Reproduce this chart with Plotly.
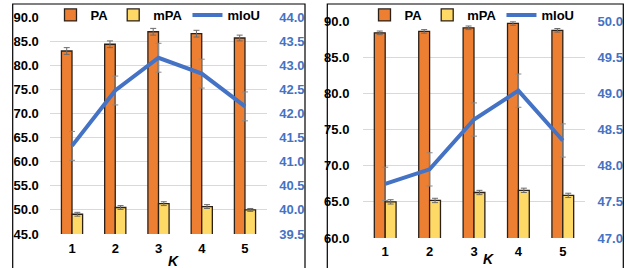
import plotly.graph_objects as go

# ---- data ----
K = ["1", "2", "3", "4", "5"]

left_pa = [83.0, 84.4, 87.0, 86.6, 85.7]
left_pa_err = [0.7, 0.7, 0.7, 0.7, 0.6]
left_mpa = [49.1, 50.5, 51.3, 50.7, 50.0]
left_mpa_err = [0.4, 0.4, 0.4, 0.4, 0.3]
left_miou = [41.33, 42.48, 43.16, 42.83, 42.15]
left_miou_err = [0.3, 0.3, 0.3, 0.3, 0.3]

right_pa = [88.4, 88.6, 89.1, 89.7, 88.75]
right_pa_err = [0.25, 0.25, 0.25, 0.25, 0.25]
right_mpa = [65.0, 65.2, 66.3, 66.6, 65.9]
right_mpa_err = [0.3, 0.3, 0.3, 0.3, 0.3]
right_miou = [47.75, 47.95, 48.64, 49.04, 48.35]
right_miou_err = [0.23, 0.23, 0.23, 0.23, 0.23]

left_y_ticks = [45 + 5 * i for i in range(10)]
left_y2_ticks = [39.5 + 0.5 * i for i in range(10)]
right_y_ticks = [60 + 5 * i for i in range(7)]
right_y2_ticks = [47.0 + 0.5 * i for i in range(7)]

# ---- style ----
W, H = 629, 268
ORANGE = "#ED7F33"
YELLOW = "#FFD966"
BLUE = "#4472C4"
EDGE = "#2b2118"
ERRC = "#6b6b6b"
FONT = "Liberation Sans"

fig = go.Figure()


def add_panel(pa, pa_e, mpa, mpa_e, miou, miou_e, xa, ya, ya2, legend):
    fig.add_trace(go.Bar(
        x=K, y=pa, name="PA", xaxis=xa, yaxis=ya, legend=legend,
        marker=dict(color=ORANGE, line=dict(color=EDGE, width=1.3)),
        error_y=dict(type="data", array=pa_e, color=ERRC, thickness=1, width=3),
    ))
    fig.add_trace(go.Bar(
        x=K, y=mpa, name="mPA", xaxis=xa, yaxis=ya, legend=legend,
        marker=dict(color=YELLOW, line=dict(color=EDGE, width=1.3)),
        error_y=dict(type="data", array=mpa_e, color=ERRC, thickness=1, width=3),
    ))
    fig.add_trace(go.Scatter(
        x=K, y=miou, name="mIoU", mode="lines", xaxis=xa, yaxis=ya2, legend=legend,
        line=dict(color=BLUE, width=4),
        error_y=dict(type="data", array=miou_e, color="#8a8a8a", thickness=1, width=3),
    ))


add_panel(left_pa, left_pa_err, left_mpa, left_mpa_err, left_miou, left_miou_err,
          "x", "y", "y2", "legend")
add_panel(right_pa, right_pa_err, right_mpa, right_mpa_err, right_miou, right_miou_err,
          "x2", "y3", "y4", "legend2")

tickfont_l = dict(family=FONT, size=13, color="#000000", weight="bold")
tickfont_r = dict(family=FONT, size=13, color=BLUE, weight="bold")

lx = [50.4 / W, 266.6 / W]
rx = [363.0 / W, 585.0 / W]
ly = [1 - 234.0 / H, 1 - 17.3 / H]
ry = [1 - 238.0 / H, 1 - 21.3 / H]

xcommon = dict(type="category", showgrid=False, zeroline=False, showline=False,
               tickfont=tickfont_l, ticks="outside", tickcolor="rgba(0,0,0,0)",
               automargin=False)
ycommon = dict(zeroline=False, tickformat=".1f", ticks="outside",
               tickcolor="rgba(0,0,0,0)", automargin=False)

fig.update_layout(
    width=W, height=H,
    margin=dict(l=0, r=0, t=0, b=0, autoexpand=False),
    paper_bgcolor="white", plot_bgcolor="white",
    barmode="group", bargap=0.51, bargroupgap=0,
    font=dict(family=FONT),
    xaxis=dict(domain=lx, anchor="y", ticklen=2, **xcommon),
    xaxis2=dict(domain=rx, anchor="y3", ticklen=1, **xcommon),
    yaxis=dict(domain=ly, anchor="x", range=[45, 90], tickvals=left_y_ticks,
               showgrid=True, gridcolor="#D9D9D9", gridwidth=1,
               tickfont=tickfont_l, ticklen=8, **ycommon),
    yaxis2=dict(overlaying="y", anchor="x", side="right", range=[39.5, 44.0],
                tickvals=left_y2_ticks, showgrid=False,
                tickfont=tickfont_r, ticklen=9, **ycommon),
    yaxis3=dict(domain=ry, anchor="x2", range=[60, 90], tickvals=right_y_ticks,
                showgrid=True, gridcolor="#D9D9D9", gridwidth=1,
                tickfont=tickfont_l, ticklen=10, **ycommon),
    yaxis4=dict(overlaying="y3", anchor="x2", side="right", range=[47.0, 50.0],
                tickvals=right_y2_ticks, showgrid=False,
                tickfont=tickfont_r, ticklen=9, **ycommon),
    legend=dict(orientation="h", x=158 / W, xanchor="center", y=1 - 15 / H, yanchor="middle",
                font=dict(family=FONT, size=13, color="#000", weight="bold"),
                bgcolor="rgba(0,0,0,0)", tracegroupgap=0),
    legend2=dict(orientation="h", x=472 / W, xanchor="center", y=1 - 15 / H, yanchor="middle",
                 font=dict(family=FONT, size=13, color="#000", weight="bold"),
                 bgcolor="rgba(0,0,0,0)", tracegroupgap=0),
    showlegend=True,
)

# panel frames
for x0, x1 in [(12.7, 305.0), (327.3, 623.3)]:
    fig.add_shape(type="rect", xref="paper", yref="paper",
                  x0=x0 / W, x1=x1 / W, y0=-0.05, y1=1 - 4.0 / H,
                  line=dict(color="#000", width=1.2), fillcolor="rgba(0,0,0,0)", layer="above")

# axis titles "K"
for xc, yc in [(174, 261), (488, 259)]:
    fig.add_annotation(text="<b><i>K</i></b>", xref="paper", yref="paper",
                       x=xc / W, y=1 - yc / H, xanchor="center", yanchor="middle",
                       showarrow=False, font=dict(family=FONT, size=14, color="#000"))

fig.write_html("out.html", config={"displayModeBar": False},
               post_script="document.body.style.margin='0';document.body.style.padding='0';")
